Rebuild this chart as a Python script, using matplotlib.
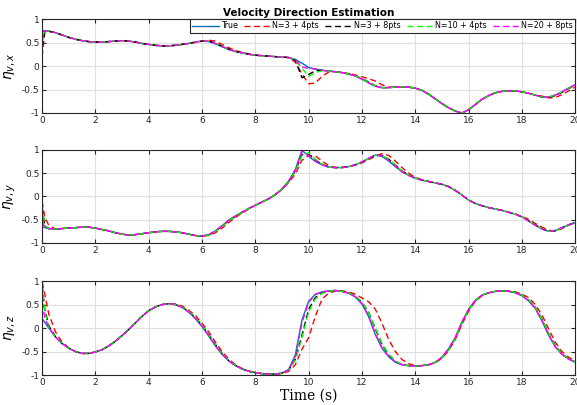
import matplotlib
matplotlib.use("Agg")
import matplotlib.pyplot as plt

# time samples (s)
t = [0, 0.1, 0.25, 0.5, 0.75, 1.0, 1.25, 1.5, 1.75, 2.0, 2.25, 2.5, 2.75, 3.0, 3.25, 3.5, 3.75,
     4.0, 4.25, 4.5, 4.75, 5.0, 5.25, 5.5, 5.75, 6.0, 6.25, 6.5, 6.75, 7.0, 7.25, 7.5, 7.75,
     8.0, 8.25, 8.5, 8.75, 9.0, 9.25, 9.5, 9.75, 10.0, 10.25, 10.5, 10.75, 11.0, 11.25, 11.5, 11.75,
     12.0, 12.25, 12.5, 12.75, 13.0, 13.25, 13.5, 13.75, 14.0, 14.25, 14.5, 14.75, 15.0, 15.25, 15.5, 15.75,
     16.0, 16.25, 16.5, 16.75, 17.0, 17.25, 17.5, 17.75, 18.0, 18.25, 18.5, 18.75, 19.0, 19.25, 19.5, 19.75, 20.0]

# ---- eta_v,x ----
x_true = [0.75, 0.75, 0.74, 0.71, 0.66, 0.61, 0.57, 0.54, 0.52, 0.51, 0.51, 0.52, 0.53, 0.54, 0.53, 0.51, 0.48,
          0.46, 0.44, 0.43, 0.43, 0.44, 0.46, 0.48, 0.51, 0.53, 0.52, 0.47, 0.41, 0.35, 0.31, 0.28, 0.25,
          0.23, 0.22, 0.21, 0.20, 0.19, 0.18, 0.14, 0.06, -0.03, -0.07, -0.09, -0.11, -0.12, -0.14, -0.17, -0.21,
          -0.28, -0.36, -0.43, -0.46, -0.46, -0.45, -0.44, -0.45, -0.47, -0.52, -0.60, -0.70, -0.80, -0.89, -0.96, -1.00,
          -0.93, -0.82, -0.71, -0.63, -0.57, -0.54, -0.53, -0.53, -0.55, -0.58, -0.62, -0.66, -0.66, -0.62, -0.55, -0.47, -0.40]
x_n3_4 = [0.20, 0.72, 0.74, 0.71, 0.66, 0.61, 0.57, 0.54, 0.52, 0.51, 0.51, 0.52, 0.53, 0.54, 0.53, 0.51, 0.48,
          0.46, 0.44, 0.43, 0.43, 0.44, 0.46, 0.48, 0.50, 0.53, 0.55, 0.53, 0.46, 0.39, 0.33, 0.29, 0.26,
          0.23, 0.22, 0.21, 0.20, 0.19, 0.18, 0.08, -0.17, -0.38, -0.36, -0.22, -0.13, -0.12, -0.14, -0.16, -0.19,
          -0.23, -0.27, -0.32, -0.40, -0.45, -0.45, -0.44, -0.45, -0.47, -0.52, -0.60, -0.70, -0.80, -0.89, -0.96, -1.00,
          -0.93, -0.82, -0.71, -0.63, -0.57, -0.54, -0.53, -0.53, -0.55, -0.58, -0.62, -0.64, -0.68, -0.67, -0.61, -0.53, -0.45]
x_n3_8 = [0.40, 0.73, 0.74, 0.71, 0.66, 0.61, 0.57, 0.54, 0.52, 0.51, 0.51, 0.52, 0.53, 0.54, 0.53, 0.51, 0.48,
          0.46, 0.44, 0.43, 0.43, 0.44, 0.46, 0.48, 0.51, 0.53, 0.53, 0.49, 0.42, 0.36, 0.31, 0.28, 0.25,
          0.23, 0.22, 0.21, 0.20, 0.19, 0.18, 0.12, -0.25, -0.18, -0.10, -0.09, -0.11, -0.12, -0.14, -0.17, -0.21,
          -0.27, -0.34, -0.42, -0.46, -0.46, -0.45, -0.44, -0.45, -0.47, -0.52, -0.60, -0.70, -0.80, -0.89, -0.96, -1.00,
          -0.93, -0.82, -0.71, -0.63, -0.57, -0.54, -0.53, -0.53, -0.55, -0.58, -0.62, -0.66, -0.67, -0.63, -0.56, -0.48, -0.41]
x_n10_4 = [0.50, 0.73, 0.74, 0.71, 0.66, 0.61, 0.57, 0.54, 0.52, 0.51, 0.51, 0.52, 0.53, 0.54, 0.53, 0.51, 0.48,
           0.46, 0.44, 0.43, 0.43, 0.44, 0.46, 0.48, 0.51, 0.53, 0.53, 0.48, 0.42, 0.36, 0.31, 0.28, 0.25,
           0.23, 0.22, 0.21, 0.20, 0.19, 0.18, 0.12, -0.05, -0.22, -0.14, -0.10, -0.11, -0.12, -0.14, -0.17, -0.21,
           -0.27, -0.35, -0.42, -0.46, -0.46, -0.45, -0.44, -0.45, -0.47, -0.52, -0.60, -0.70, -0.80, -0.89, -0.96, -1.00,
           -0.93, -0.82, -0.71, -0.63, -0.57, -0.54, -0.53, -0.53, -0.55, -0.58, -0.62, -0.66, -0.66, -0.62, -0.55, -0.47, -0.40]
x_n20_8 = [0.72, 0.74, 0.74, 0.71, 0.66, 0.61, 0.57, 0.54, 0.52, 0.51, 0.51, 0.52, 0.53, 0.54, 0.53, 0.51, 0.48,
           0.46, 0.44, 0.43, 0.43, 0.44, 0.46, 0.48, 0.51, 0.53, 0.53, 0.48, 0.42, 0.36, 0.31, 0.28, 0.25,
           0.23, 0.22, 0.21, 0.20, 0.19, 0.18, 0.13, -0.02, -0.05, -0.06, -0.09, -0.11, -0.12, -0.14, -0.17, -0.21,
           -0.28, -0.36, -0.43, -0.46, -0.46, -0.45, -0.44, -0.45, -0.47, -0.52, -0.60, -0.70, -0.80, -0.89, -0.96, -1.00,
           -0.93, -0.82, -0.71, -0.63, -0.57, -0.54, -0.53, -0.53, -0.55, -0.58, -0.62, -0.66, -0.66, -0.62, -0.55, -0.47, -0.40]

# ---- eta_v,y ----
y_true = [-0.65, -0.67, -0.69, -0.70, -0.69, -0.68, -0.67, -0.66, -0.66, -0.68, -0.71, -0.74, -0.78, -0.81, -0.83, -0.82, -0.80,
          -0.78, -0.76, -0.75, -0.75, -0.76, -0.78, -0.81, -0.84, -0.85, -0.82, -0.74, -0.63, -0.51, -0.42, -0.34, -0.26,
          -0.19, -0.12, -0.05, 0.04, 0.16, 0.33, 0.58, 0.99, 0.86, 0.75, 0.68, 0.63, 0.62, 0.62, 0.64, 0.68,
          0.74, 0.82, 0.89, 0.86, 0.76, 0.64, 0.53, 0.45, 0.39, 0.35, 0.32, 0.29, 0.26, 0.21, 0.13, 0.03,
          -0.08, -0.15, -0.20, -0.24, -0.27, -0.30, -0.34, -0.38, -0.44, -0.53, -0.62, -0.70, -0.75, -0.73, -0.67, -0.61, -0.56]
y_n3_4 = [-0.10, -0.45, -0.62, -0.70, -0.69, -0.68, -0.67, -0.66, -0.66, -0.68, -0.71, -0.74, -0.78, -0.81, -0.83, -0.82, -0.80,
          -0.78, -0.76, -0.75, -0.75, -0.76, -0.78, -0.81, -0.84, -0.85, -0.84, -0.78, -0.68, -0.56, -0.45, -0.36, -0.27,
          -0.19, -0.12, -0.05, 0.04, 0.15, 0.30, 0.48, 0.78, 0.88, 0.87, 0.76, 0.66, 0.62, 0.62, 0.64, 0.67,
          0.72, 0.79, 0.86, 0.92, 0.88, 0.76, 0.62, 0.50, 0.41, 0.36, 0.32, 0.29, 0.26, 0.21, 0.13, 0.03,
          -0.08, -0.15, -0.20, -0.24, -0.27, -0.30, -0.34, -0.38, -0.43, -0.49, -0.58, -0.66, -0.73, -0.74, -0.69, -0.62, -0.56]
y_n3_8 = [-0.25, -0.63, -0.69, -0.70, -0.69, -0.68, -0.67, -0.66, -0.66, -0.68, -0.71, -0.74, -0.78, -0.81, -0.83, -0.82, -0.80,
          -0.78, -0.76, -0.75, -0.75, -0.76, -0.78, -0.81, -0.84, -0.85, -0.83, -0.75, -0.64, -0.52, -0.43, -0.34, -0.26,
          -0.19, -0.12, -0.05, 0.04, 0.16, 0.32, 0.55, 0.90, 0.90, 0.78, 0.69, 0.63, 0.62, 0.62, 0.64, 0.68,
          0.74, 0.81, 0.88, 0.88, 0.80, 0.67, 0.55, 0.46, 0.39, 0.35, 0.32, 0.29, 0.26, 0.21, 0.13, 0.03,
          -0.08, -0.15, -0.20, -0.24, -0.27, -0.30, -0.34, -0.38, -0.44, -0.52, -0.61, -0.69, -0.75, -0.74, -0.68, -0.61, -0.56]
y_n10_4 = [-0.20, -0.62, -0.69, -0.70, -0.69, -0.68, -0.67, -0.66, -0.66, -0.68, -0.71, -0.74, -0.78, -0.81, -0.83, -0.82, -0.80,
           -0.78, -0.76, -0.75, -0.75, -0.76, -0.78, -0.81, -0.84, -0.85, -0.83, -0.75, -0.64, -0.52, -0.43, -0.34, -0.26,
           -0.19, -0.12, -0.05, 0.04, 0.16, 0.32, 0.55, 0.88, 0.94, 0.80, 0.70, 0.63, 0.62, 0.62, 0.64, 0.68,
           0.74, 0.81, 0.88, 0.88, 0.80, 0.68, 0.55, 0.46, 0.39, 0.35, 0.32, 0.29, 0.26, 0.21, 0.13, 0.03,
           -0.08, -0.15, -0.20, -0.24, -0.27, -0.30, -0.34, -0.38, -0.44, -0.52, -0.61, -0.69, -0.75, -0.74, -0.68, -0.61, -0.56]
y_n20_8 = [-0.55, -0.66, -0.69, -0.70, -0.69, -0.68, -0.67, -0.66, -0.66, -0.68, -0.71, -0.74, -0.78, -0.81, -0.83, -0.82, -0.80,
           -0.78, -0.76, -0.75, -0.75, -0.76, -0.78, -0.81, -0.84, -0.85, -0.82, -0.74, -0.63, -0.51, -0.42, -0.34, -0.26,
           -0.19, -0.12, -0.05, 0.04, 0.16, 0.33, 0.57, 0.97, 0.88, 0.76, 0.68, 0.63, 0.62, 0.62, 0.64, 0.68,
           0.74, 0.82, 0.89, 0.87, 0.77, 0.65, 0.53, 0.45, 0.39, 0.35, 0.32, 0.29, 0.26, 0.21, 0.13, 0.03,
           -0.08, -0.15, -0.20, -0.24, -0.27, -0.30, -0.34, -0.38, -0.44, -0.53, -0.62, -0.70, -0.75, -0.73, -0.67, -0.61, -0.56]

# ---- eta_v,z ----
z_true = [0.20, 0.12, 0.00, -0.19, -0.33, -0.43, -0.50, -0.54, -0.54, -0.51, -0.46, -0.38, -0.28, -0.16, -0.03, 0.11, 0.25,
          0.37, 0.45, 0.50, 0.52, 0.50, 0.44, 0.34, 0.20, 0.03, -0.17, -0.38, -0.56, -0.70, -0.80, -0.87, -0.92,
          -0.95, -0.97, -0.98, -0.98, -0.96, -0.88, -0.57, 0.18, 0.57, 0.72, 0.77, 0.79, 0.80, 0.78, 0.74, 0.66,
          0.51, 0.24, -0.14, -0.43, -0.61, -0.73, -0.78, -0.80, -0.81, -0.80, -0.78, -0.73, -0.62, -0.44, -0.20, 0.13,
          0.40, 0.59, 0.70, 0.75, 0.78, 0.79, 0.78, 0.75, 0.69, 0.58, 0.42, 0.15, -0.15, -0.40, -0.56, -0.66, -0.73]
z_n3_4 = [0.98, 0.72, 0.30, -0.08, -0.30, -0.42, -0.50, -0.54, -0.54, -0.51, -0.46, -0.38, -0.28, -0.16, -0.03, 0.11, 0.25,
          0.37, 0.45, 0.50, 0.52, 0.51, 0.47, 0.38, 0.27, 0.10, -0.08, -0.30, -0.50, -0.66, -0.78, -0.86, -0.91,
          -0.95, -0.97, -0.98, -0.98, -0.97, -0.92, -0.78, -0.45, -0.20, 0.25, 0.62, 0.74, 0.79, 0.79, 0.77, 0.72,
          0.64, 0.56, 0.40, 0.10, -0.24, -0.50, -0.67, -0.76, -0.80, -0.80, -0.78, -0.74, -0.64, -0.48, -0.24, 0.08,
          0.36, 0.57, 0.69, 0.75, 0.78, 0.79, 0.79, 0.77, 0.72, 0.65, 0.50, 0.28, -0.02, -0.30, -0.50, -0.62, -0.70]
z_n3_8 = [0.90, 0.40, 0.05, -0.18, -0.33, -0.43, -0.50, -0.54, -0.54, -0.51, -0.46, -0.38, -0.28, -0.16, -0.03, 0.11, 0.25,
          0.37, 0.45, 0.50, 0.52, 0.50, 0.45, 0.36, 0.22, 0.06, -0.14, -0.35, -0.54, -0.69, -0.79, -0.87, -0.92,
          -0.95, -0.97, -0.98, -0.98, -0.96, -0.90, -0.66, -0.15, 0.40, 0.65, 0.75, 0.79, 0.80, 0.78, 0.75, 0.68,
          0.55, 0.33, -0.02, -0.35, -0.57, -0.71, -0.78, -0.80, -0.81, -0.80, -0.78, -0.73, -0.63, -0.46, -0.22, 0.11,
          0.39, 0.58, 0.70, 0.75, 0.78, 0.79, 0.78, 0.76, 0.70, 0.60, 0.44, 0.19, -0.12, -0.37, -0.55, -0.65, -0.72]
z_n10_4 = [0.92, 0.35, 0.02, -0.19, -0.33, -0.43, -0.50, -0.54, -0.54, -0.51, -0.46, -0.38, -0.28, -0.16, -0.03, 0.11, 0.25,
           0.37, 0.45, 0.50, 0.52, 0.50, 0.45, 0.36, 0.22, 0.06, -0.14, -0.35, -0.54, -0.69, -0.79, -0.87, -0.92,
           -0.95, -0.97, -0.98, -0.98, -0.96, -0.90, -0.68, -0.20, 0.35, 0.62, 0.74, 0.79, 0.80, 0.78, 0.75, 0.68,
           0.55, 0.33, 0.00, -0.33, -0.56, -0.70, -0.78, -0.80, -0.81, -0.80, -0.78, -0.73, -0.63, -0.46, -0.22, 0.11,
           0.39, 0.58, 0.70, 0.75, 0.78, 0.79, 0.78, 0.76, 0.70, 0.60, 0.44, 0.18, -0.12, -0.38, -0.55, -0.65, -0.72]
z_n20_8 = [0.55, 0.22, 0.02, -0.19, -0.33, -0.43, -0.50, -0.54, -0.54, -0.51, -0.46, -0.38, -0.28, -0.16, -0.03, 0.11, 0.25,
           0.37, 0.45, 0.50, 0.52, 0.50, 0.44, 0.34, 0.20, 0.04, -0.16, -0.37, -0.55, -0.70, -0.80, -0.87, -0.92,
           -0.95, -0.97, -0.98, -0.98, -0.96, -0.89, -0.60, 0.12, 0.55, 0.71, 0.77, 0.79, 0.80, 0.78, 0.74, 0.67,
           0.52, 0.26, -0.12, -0.42, -0.60, -0.72, -0.78, -0.80, -0.81, -0.80, -0.78, -0.73, -0.62, -0.44, -0.20, 0.13,
           0.40, 0.59, 0.70, 0.75, 0.78, 0.79, 0.78, 0.75, 0.69, 0.58, 0.42, 0.16, -0.14, -0.40, -0.56, -0.66, -0.73]

labels = ["True", "N=3 + 4pts", "N=3 + 8pts", "N=10 + 4pts", "N=20 + 8pts"]
colors = ["#0072BD", "#FF0000", "#000000", "#00FF00", "#FF00FF"]
styles = ["-", "--", "--", "--", "--"]
ylabels = [r"$\eta_{v,x}$", r"$\eta_{v,y}$", r"$\eta_{v,z}$"]
xticks = list(range(0, 21, 2))
yticks = [-1, -0.5, 0, 0.5, 1]
ytick_labels = ["-1", "-0.5", "0", "0.5", "1"]

panels = [
    [x_true, x_n3_4, x_n3_8, x_n10_4, x_n20_8],
    [y_true, y_n3_4, y_n3_8, y_n10_4, y_n20_8],
    [z_true, z_n3_4, z_n3_8, z_n10_4, z_n20_8],
]

fig = plt.figure(figsize=(5.77, 4.05), dpi=100)
boxes = [[0.073, 0.721, 0.924, 0.232],
         [0.073, 0.400, 0.924, 0.230],
         [0.073, 0.074, 0.924, 0.232]]

axes = []
for i, series in enumerate(panels):
    ax = fig.add_axes(boxes[i])
    for s, c, ls, lab in zip(series, colors, styles, labels):
        line, = ax.plot(t, s, color=c, linestyle=ls, linewidth=1.0, label=lab)
        if ls == "--":
            line.set_dashes((4.3, 2.6))
    ax.set_xlim(0, 20)
    ax.set_ylim(-1, 1)
    ax.set_xticks(xticks)
    ax.set_xticklabels([str(v) for v in xticks])
    ax.set_yticks(yticks)
    ax.set_yticklabels(ytick_labels)
    ax.grid(True, color="#e0e0e0", linewidth=0.8)
    ax.set_axisbelow(True)
    ax.tick_params(direction="in", top=True, right=True, labelsize=6.5,
                   colors="#262626", length=3, width=0.8, pad=2)
    for sp in ax.spines.values():
        sp.set_color("#262626")
        sp.set_linewidth(0.8)
    ax.set_ylabel(ylabels[i], fontsize=10, labelpad=3)
    axes.append(ax)

axes[0].set_title("Velocity Direction Estimation", fontsize=7.5, fontweight="bold", pad=2)
leg = axes[0].legend(loc="upper right", bbox_to_anchor=(1.0, 1.0), ncol=5, fontsize=5.8,
                     handlelength=3.3, handletextpad=0.2, columnspacing=0.8, borderpad=0.3,
                     borderaxespad=0, frameon=True, fancybox=False, framealpha=1)
leg.get_frame().set_edgecolor("#262626")
leg.get_frame().set_linewidth(0.8)
axes[2].set_xlabel("Time (s)", fontsize=10, family="DejaVu Serif", labelpad=1)

fig.savefig("out.png", dpi=100)
